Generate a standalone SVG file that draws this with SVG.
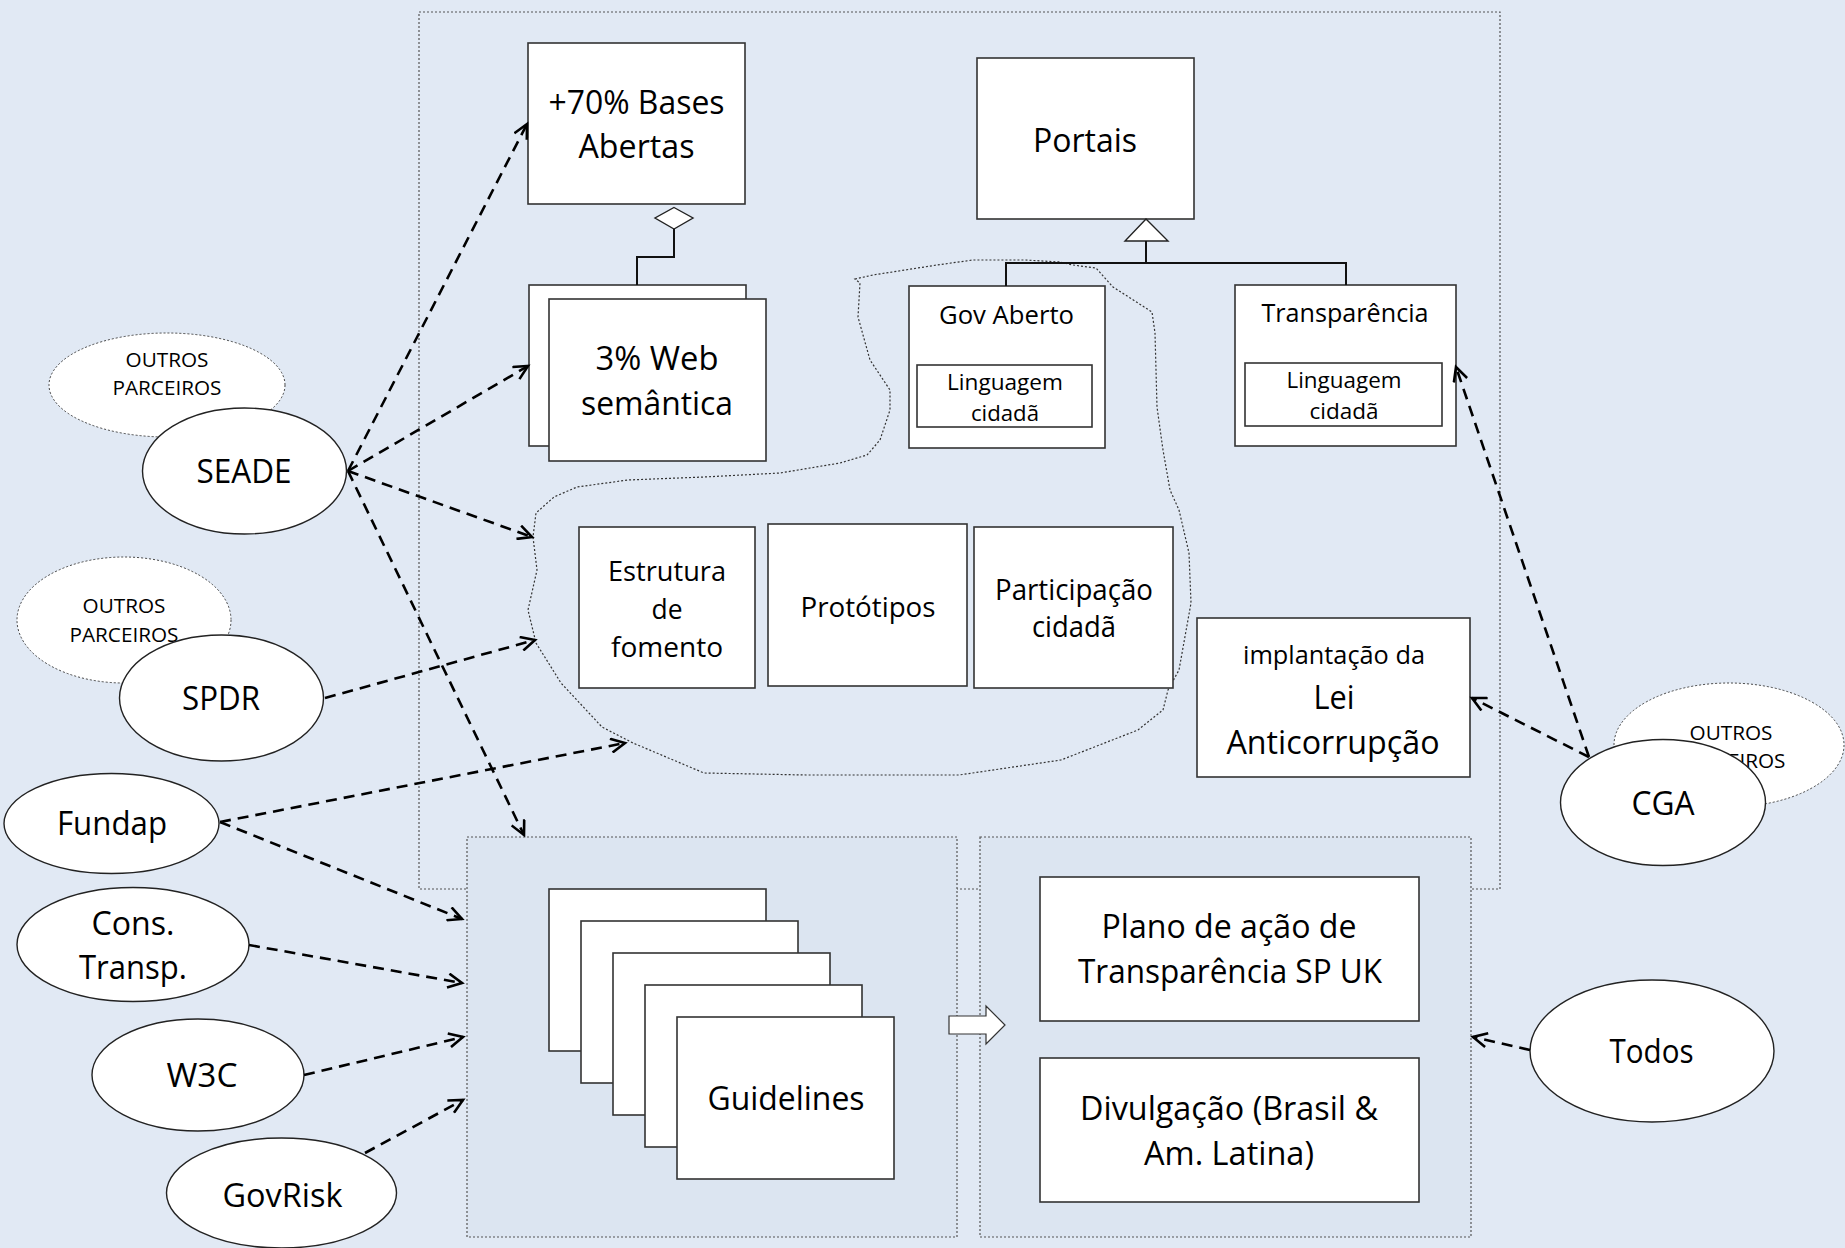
<svg xmlns="http://www.w3.org/2000/svg" width="1845" height="1248" viewBox="0 0 1845 1248">
<defs>
<style>
.box{fill:#fff;stroke:#333;stroke-width:1.6}
.actor{fill:#fff;stroke:#222;stroke-width:1.4}
.other{fill:#fff;stroke:#444;stroke-width:1;stroke-dasharray:2 2}
.frame{fill:none;stroke:#555;stroke-width:1.2;stroke-dasharray:2 2}
.cont{fill:#DCE5F1;stroke:#555;stroke-width:1.2;stroke-dasharray:2 2}
.cloud{fill:none;stroke:#333;stroke-width:1.2;stroke-dasharray:2 2}
.rel{fill:none;stroke:#111;stroke-width:2}
.dep{fill:none;stroke:#000;stroke-width:2.6;stroke-dasharray:11 7;marker-end:url(#open)}
text{font-family:"Open Sans","Liberation Sans",sans-serif;fill:#000;text-anchor:middle}
</style>
<marker id="open" markerUnits="userSpaceOnUse" markerWidth="20" markerHeight="16" refX="15" refY="8" orient="auto" viewBox="0 0 20 16">
<path d="M1,1 L15,8 L1,15" fill="none" stroke="#000" stroke-width="2.6" stroke-dasharray="none"/>
</marker>
</defs>
<rect x="0" y="0" width="1845" height="1248" fill="#E1E9F4"/>
<rect id="frame" class="frame" x="419" y="12" width="1081" height="877"/>
<path id="cloud" class="cloud" d="M855,279 L873,275 L937,265 L973,260 L1025,260 L1060,262 L1073,265 L1096,268 L1113,287 L1152,312 L1155,333 L1157,407 L1163,450 L1170,490 L1179,510 L1189,553 L1191,603 L1179,670 L1168,690 L1163,710 L1138,730 L1061,760 L959,775 L806,775 L704,773 L633,743 L602,727 L561,683 L536,643 L528,610 L537,570 L533,537 L536,513 L554,497 L577,487 L628,480 L704,477 L780,473 L840,463 L867,455 L880,440 L890,410 L890,390 L870,360 L858,317 L860,283 Z"/>
<g id="guidelines-container"><rect class="cont" x="467" y="837" width="490" height="400"/></g>
<g id="plano-container"><rect class="cont" x="980" y="837" width="491" height="400"/></g>

<g id="bases"><rect class="box" x="528" y="43" width="217" height="161"/><text font-size="32" x="636.5" y="114" textLength="176" lengthAdjust="spacingAndGlyphs">+70% Bases</text><text font-size="32" x="636.5" y="158" textLength="116" lengthAdjust="spacingAndGlyphs">Abertas</text></g>
<g id="web-semantica"><rect class="box" x="529" y="285" width="217" height="161"/><rect class="box" x="549" y="299" width="217" height="162"/><text font-size="32" x="657" y="370" textLength="123" lengthAdjust="spacingAndGlyphs">3% Web</text><text font-size="32" x="657" y="415" textLength="152" lengthAdjust="spacingAndGlyphs">semântica</text></g>
<g id="portais"><rect class="box" x="977" y="58" width="217" height="161"/><text font-size="33" x="1085" y="152" textLength="104" lengthAdjust="spacingAndGlyphs">Portais</text></g>
<g id="gov-aberto"><rect class="box" x="909" y="286" width="196" height="162"/><text font-size="26" x="1006.5" y="324" textLength="135" lengthAdjust="spacingAndGlyphs">Gov Aberto</text><rect class="box" x="917" y="365" width="175" height="62"/><text font-size="22" x="1005" y="390" textLength="116" lengthAdjust="spacingAndGlyphs">Linguagem</text><text font-size="22" x="1005" y="421" textLength="68" lengthAdjust="spacingAndGlyphs">cidadã</text></g>
<g id="transparencia"><rect class="box" x="1235" y="285" width="221" height="161"/><text font-size="25" x="1345" y="322" textLength="167" lengthAdjust="spacingAndGlyphs">Transparência</text><rect class="box" x="1245" y="363" width="197" height="63"/><text font-size="22" x="1344" y="388" textLength="115" lengthAdjust="spacingAndGlyphs">Linguagem</text><text font-size="22" x="1344" y="419" textLength="69" lengthAdjust="spacingAndGlyphs">cidadã</text></g>
<g id="estrutura"><rect class="box" x="579" y="527" width="176" height="161"/><text font-size="28" x="667" y="581" textLength="118" lengthAdjust="spacingAndGlyphs">Estrutura</text><text font-size="28" x="667" y="619" textLength="31" lengthAdjust="spacingAndGlyphs">de</text><text font-size="28" x="667" y="657" textLength="112" lengthAdjust="spacingAndGlyphs">fomento</text></g>
<g id="prototipos"><rect class="box" x="768" y="524" width="199" height="162"/><text font-size="28" x="868" y="617" textLength="135" lengthAdjust="spacingAndGlyphs">Protótipos</text></g>
<g id="participacao"><rect class="box" x="974" y="527" width="199" height="161"/><text font-size="29" x="1074" y="600" textLength="158" lengthAdjust="spacingAndGlyphs">Participação</text><text font-size="29" x="1074" y="637" textLength="84" lengthAdjust="spacingAndGlyphs">cidadã</text></g>
<g id="lei"><rect class="box" x="1197" y="618" width="273" height="159"/><text font-size="25" x="1334" y="664" textLength="182" lengthAdjust="spacingAndGlyphs">implantação da</text><text font-size="32" x="1334" y="709" textLength="41" lengthAdjust="spacingAndGlyphs">Lei</text><text font-size="32" x="1333" y="754" textLength="213" lengthAdjust="spacingAndGlyphs">Anticorrupção</text></g>
<g id="guidelines">
<rect class="box" x="549" y="889" width="217" height="162"/>
<rect class="box" x="581" y="921" width="217" height="162"/>
<rect class="box" x="613" y="953" width="217" height="162"/>
<rect class="box" x="645" y="985" width="217" height="162"/>
<rect class="box" x="677" y="1017" width="217" height="162"/><text font-size="32" x="786" y="1110" textLength="157" lengthAdjust="spacingAndGlyphs">Guidelines</text>
</g>
<g id="plano"><rect class="box" x="1040" y="877" width="379" height="144"/><text font-size="32" x="1229" y="938" textLength="255" lengthAdjust="spacingAndGlyphs">Plano de ação de</text><text font-size="32" x="1230" y="983" textLength="304" lengthAdjust="spacingAndGlyphs">Transparência SP UK</text></g>
<g id="divulgacao"><rect class="box" x="1040" y="1058" width="379" height="144"/><text font-size="32" x="1229" y="1120" textLength="298" lengthAdjust="spacingAndGlyphs">Divulgação (Brasil &amp;</text><text font-size="32" x="1229" y="1165" textLength="170" lengthAdjust="spacingAndGlyphs">Am. Latina)</text></g>

<g id="outros1"><ellipse class="other" cx="167" cy="385" rx="118" ry="52"/><text font-size="20.5" x="167" y="367" textLength="83" lengthAdjust="spacingAndGlyphs">OUTROS</text><text font-size="20.5" x="167" y="395" textLength="109" lengthAdjust="spacingAndGlyphs">PARCEIROS</text></g>
<g id="outros2"><ellipse class="other" cx="124" cy="620" rx="107" ry="63"/><text font-size="20.5" x="124" y="613" textLength="83" lengthAdjust="spacingAndGlyphs">OUTROS</text><text font-size="20.5" x="124" y="642" textLength="109" lengthAdjust="spacingAndGlyphs">PARCEIROS</text></g>
<g id="outros3"><ellipse class="other" cx="1729" cy="745" rx="115" ry="62"/><text font-size="20.5" x="1731" y="740" textLength="83" lengthAdjust="spacingAndGlyphs">OUTROS</text><text font-size="20.5" x="1731" y="768" textLength="109" lengthAdjust="spacingAndGlyphs">PARCEIROS</text></g>
<g id="seade"><ellipse class="actor" cx="244.5" cy="471" rx="102" ry="63"/><text font-size="33" x="244" y="483" textLength="95" lengthAdjust="spacingAndGlyphs">SEADE</text></g>
<g id="spdr"><ellipse class="actor" cx="221.5" cy="698" rx="102" ry="63"/><text font-size="32.5" x="221" y="710" textLength="78" lengthAdjust="spacingAndGlyphs">SPDR</text></g>
<g id="fundap"><ellipse class="actor" cx="111.5" cy="823.5" rx="107.5" ry="50"/><text font-size="32" x="112" y="835" textLength="110" lengthAdjust="spacingAndGlyphs">Fundap</text></g>
<g id="cons"><ellipse class="actor" cx="133" cy="944.5" rx="116" ry="57"/><text font-size="32" x="133" y="935" textLength="83" lengthAdjust="spacingAndGlyphs">Cons.</text><text font-size="32" x="133" y="979" textLength="108" lengthAdjust="spacingAndGlyphs">Transp.</text></g>
<g id="w3c"><ellipse class="actor" cx="198" cy="1075" rx="106" ry="56"/><text font-size="32.5" x="202" y="1087" textLength="71" lengthAdjust="spacingAndGlyphs">W3C</text></g>
<g id="govrisk"><ellipse class="actor" cx="281.5" cy="1193" rx="115" ry="55"/><text font-size="32" x="282.5" y="1207" textLength="120" lengthAdjust="spacingAndGlyphs">GovRisk</text></g>
<g id="cga"><ellipse class="actor" cx="1663" cy="802.5" rx="102.5" ry="63"/><text font-size="32.5" x="1663" y="815" textLength="63" lengthAdjust="spacingAndGlyphs">CGA</text></g>
<g id="todos"><ellipse class="actor" cx="1652" cy="1051" rx="122" ry="71"/><text font-size="32.5" x="1651.5" y="1063" textLength="84" lengthAdjust="spacingAndGlyphs">Todos</text></g>

<g id="connectors">
<polygon points="674,207.5 693,218 674,229 655,218" fill="#fff" stroke="#222" stroke-width="1.4"/>
<polyline class="rel" points="674,229 674,257 637,257 637,285"/>
<polygon points="1146,219 1168,241 1125,241" fill="#fff" stroke="#222" stroke-width="1.4"/>
<polyline class="rel" points="1146,241 1146,263"/>
<polyline class="rel" points="1006,286 1006,263 1346,263 1346,285"/>
<polygon points="949,1016 986,1016 986,1006 1005,1025 986,1044 986,1034 949,1034" fill="#fff" stroke="#333" stroke-width="1.2"/>
<line class="dep" x1="348" y1="471" x2="527" y2="124"/>
<line class="dep" x1="348" y1="471" x2="528" y2="366"/>
<line class="dep" x1="348" y1="471" x2="532" y2="537"/>
<line class="dep" x1="348" y1="471" x2="524" y2="835"/>
<line class="dep" x1="325" y1="698" x2="535" y2="640"/>
<line class="dep" x1="220" y1="822" x2="625" y2="743"/>
<line class="dep" x1="220" y1="822" x2="462" y2="919"/>
<line class="dep" x1="249" y1="945" x2="462" y2="983"/>
<line class="dep" x1="304" y1="1075" x2="463" y2="1037"/>
<line class="dep" x1="365" y1="1153" x2="463" y2="1100"/>
<line class="dep" x1="1589" y1="757" x2="1456" y2="367"/>
<line class="dep" x1="1589" y1="757" x2="1472" y2="698"/>
<line class="dep" x1="1530" y1="1050" x2="1473" y2="1037"/>
</g>
</svg>
